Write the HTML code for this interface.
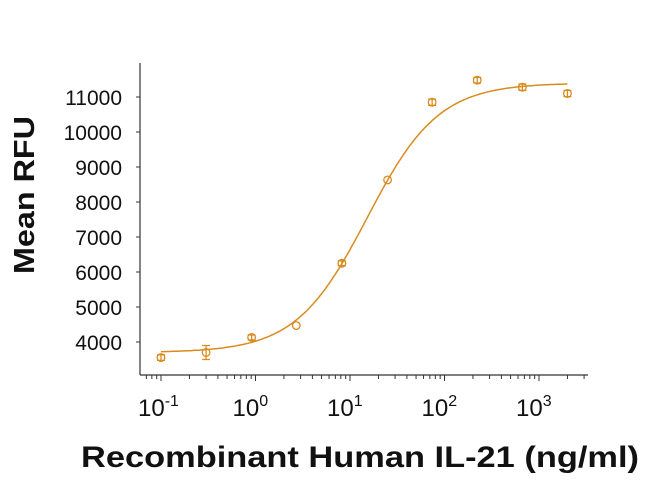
<!DOCTYPE html>
<html><head><meta charset="utf-8"><style>
body{margin:0;background:#fff;width:650px;height:479px;overflow:hidden}
text{font-family:"Liberation Sans",Arial,sans-serif}
</style></head><body>
<svg id="s" width="650" height="479" xmlns="http://www.w3.org/2000/svg">
<g stroke="#333" stroke-width="1.2" fill="none">
<line x1="140" y1="63" x2="140" y2="375"/>
<line x1="140" y1="375" x2="588" y2="375"/>
</g>
<g id="ticks" stroke="#333" stroke-width="1"></g>
<g font-size="21" fill="#111" text-anchor="end" id="yl"></g>
<g font-size="24" fill="#111" id="xl"></g>
<text transform="translate(34,195) rotate(-90)" text-anchor="middle" font-size="29" font-weight="bold" fill="#111" textLength="158" lengthAdjust="spacingAndGlyphs">Mean RFU</text>
<text x="360" y="467" text-anchor="middle" font-size="30" font-weight="bold" fill="#111" textLength="558" lengthAdjust="spacingAndGlyphs">Recombinant Human IL-21 (ng/ml)</text>
<path id="curve" fill="none" stroke="#D98B1E" stroke-width="1.5"/>
<g id="pts" stroke="#D98B1E" stroke-width="1.3" fill="none"></g>
</svg>
<script>
var NS="http://www.w3.org/2000/svg";
function el(p,t,a,txt){var e=document.createElementNS(NS,t);for(var k in a)e.setAttribute(k,a[k]);if(txt!==undefined)e.innerHTML=txt;document.getElementById(p).appendChild(e);return e;}
function X(v){return 161+(Math.log10(v)+1)*94.5;}
function Y(v){return 97+(11000-v)*0.035;}
for(var v=4000;v<=11000;v+=1000){var y=Y(v);el("ticks","line",{x1:136,y1:y,x2:140,y2:y});el("yl","text",{x:122,y:y+8},v);}
for(var d=-2;d<=3;d++){for(var m=1;m<10;m++){var v=m*Math.pow(10,d);var x=X(v);if(x<142||x>588)continue;el("ticks","line",{x1:x,y1:375,x2:x,y2:m==1?381:379});}}
var labs=["-1","0","1","2","3"];
for(var i=0;i<5;i++){var x=161+i*94.5;el("xl","text",{x:x-23,y:416},"10<tspan font-size='16' dy='-10'>"+labs[i]+"</tspan>");}
function f(x){return 3700+(11400-3700)/(1+Math.pow(15.2/x,1.15));}
var d="";for(var i=0;i<=200;i++){var lx=-1+i*(Math.log10(2000)+1)/200;var x=Math.pow(10,lx);d+=(i?"L":"M")+X(x).toFixed(1)+" "+Y(f(x)).toFixed(1);}
document.getElementById("curve").setAttribute("d",d);
var data=[[0.1,3555,80],[0.3,3700,200],[0.91,4130,70],[2.7,4470,0],[8.2,6250,70],[25,8630,0],[74,10850,90],[222,11480,80],[667,11280,90],[2000,11100,90]];
data.forEach(function(p){var x=X(p[0]),y=Y(p[1]);el("pts","circle",{cx:x,cy:y,r:3.8});if(p[2]){var e=p[2]*0.035;el("pts","path",{d:"M"+x+" "+(y-e)+"V"+(y+e)+"M"+(x-4)+" "+(y-e)+"H"+(x+4)+"M"+(x-4)+" "+(y+e)+"H"+(x+4)});}});
</script>
</body></html>
